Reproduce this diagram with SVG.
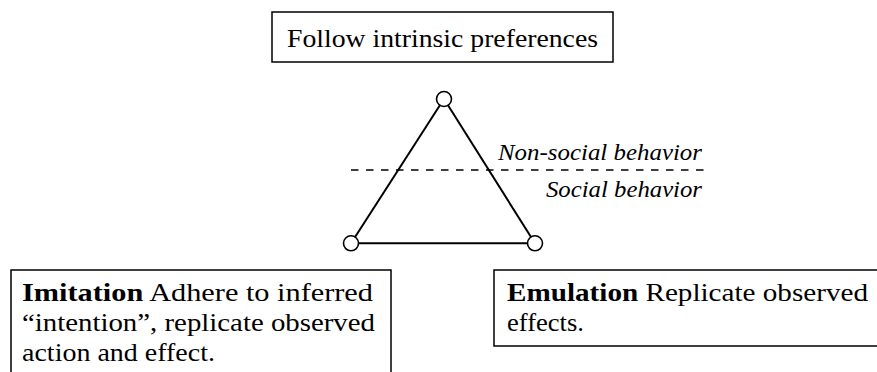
<svg xmlns="http://www.w3.org/2000/svg" width="877" height="372" viewBox="0 0 877 372">
<rect width="877" height="372" fill="#fff"/>
<g id="top-box" font-family="'Liberation Serif', serif" font-size="26" fill="#000">
<rect x="272" y="12" width="341" height="50" fill="#fff" stroke="#000" stroke-width="1.5"/>
<text x="287" y="46.5" textLength="311" lengthAdjust="spacingAndGlyphs">Follow intrinsic preferences</text>
</g>
<g id="connectors" stroke="#000" fill="none">
<line stroke-width="2" x1="439.9" y1="105.3" x2="355.1" y2="237"/>
<line stroke-width="2" x1="448" y1="105.3" x2="531" y2="237"/>
<line stroke-width="2" x1="358.5" y1="243.3" x2="527.5" y2="243.3"/>
<line stroke-width="1.6" stroke-dasharray="7.5 7.5" x1="351" y1="170" x2="710" y2="170"/>
</g>
<g id="node-top"><circle cx="444" cy="99" r="7.5" fill="#fff" stroke="#000" stroke-width="1.6"/></g>
<g id="node-left"><circle cx="351" cy="243.3" r="7.5" fill="#fff" stroke="#000" stroke-width="1.6"/></g>
<g id="node-right"><circle cx="535" cy="243.3" r="7.5" fill="#fff" stroke="#000" stroke-width="1.6"/></g>
<g id="labels" font-family="'Liberation Serif', serif" font-size="23" font-style="italic" fill="#000">
<text x="498" y="160" textLength="204" lengthAdjust="spacingAndGlyphs">Non-social behavior</text>
<text x="546" y="197" textLength="156" lengthAdjust="spacingAndGlyphs">Social behavior</text>
</g>
<g id="imitation-box" font-family="'Liberation Serif', serif" font-size="26" fill="#000">
<rect x="11" y="270" width="380" height="120" fill="#fff" stroke="#000" stroke-width="1.5"/>
<text x="22" y="301" textLength="351" lengthAdjust="spacingAndGlyphs"><tspan font-weight="bold">Imitation</tspan> Adhere to inferred</text>
<text x="22" y="331" textLength="353" lengthAdjust="spacingAndGlyphs">&#8220;intention&#8221;, replicate observed</text>
<text x="22" y="361" textLength="193" lengthAdjust="spacingAndGlyphs">action and effect.</text>
</g>
<g id="emulation-box" font-family="'Liberation Serif', serif" font-size="26" fill="#000">
<rect x="494" y="270" width="400" height="76" fill="#fff" stroke="#000" stroke-width="1.5"/>
<text x="507" y="301" textLength="361" lengthAdjust="spacingAndGlyphs"><tspan font-weight="bold">Emulation</tspan> Replicate observed</text>
<text x="507" y="331" textLength="77" lengthAdjust="spacingAndGlyphs">effects.</text>
</g>
</svg>
